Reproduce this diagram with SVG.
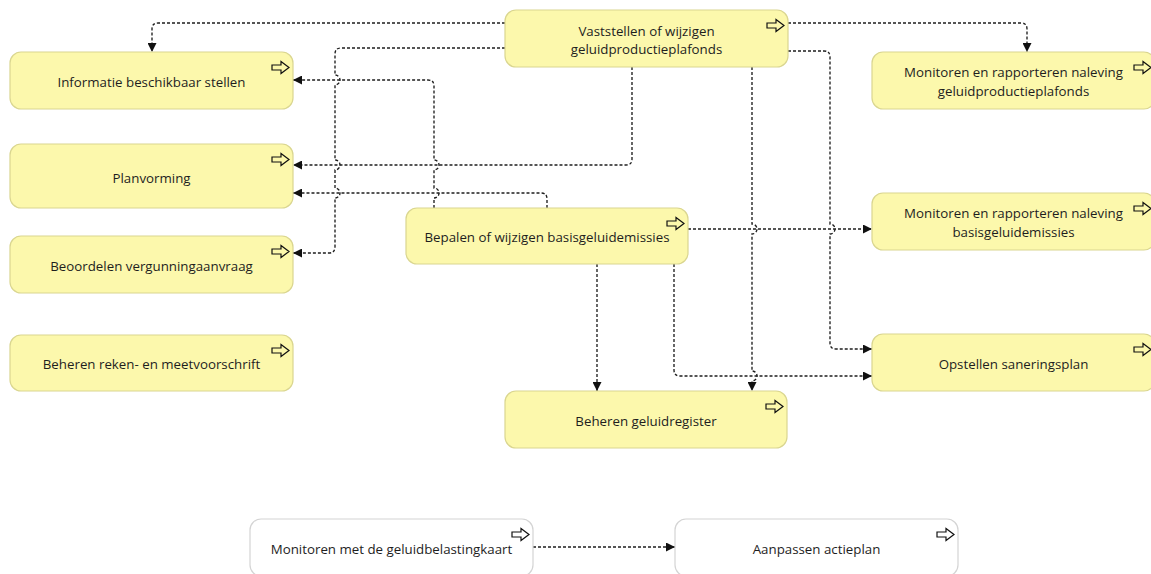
<svg xmlns="http://www.w3.org/2000/svg" width="1151" height="574" viewBox="0 0 1151 574">
<style>
.n rect{fill:#fcf8ac;stroke:#dad690;stroke-width:1.2}
.w rect{fill:#ffffff;stroke:#d4d4d4;stroke-width:1.2}
.n text,.w text{font-family:"Open Sans","Noto Sans","Liberation Sans",sans-serif;font-size:13.3px;fill:#1e1e1e;text-anchor:middle}
.ic{fill:none;stroke:#111;stroke-width:1.2;stroke-linejoin:miter}
.c path{fill:none;stroke:#1e1e1e;stroke-width:1.35;stroke-dasharray:3 2;marker-end:url(#ah)}
</style>
<defs>
<marker id="ah" viewBox="0 0 10 10" refX="10" refY="5" markerWidth="9" markerHeight="9" markerUnits="userSpaceOnUse" orient="auto">
<path d="M0,0 L10,5 L0,10 z" fill="#111"/>
</marker>
<path id="icon" d="M0,-2.5 H9 V-6 L17,0 L9,6 V2.5 H0 Z"/>
</defs>
<rect width="1151" height="574" fill="#ffffff"/>

<g class="c" id="connectors">
<path d="M505,23 H158 Q152,23 152,29 V52"/>
<path d="M505,48 H341 Q335,48 335,54 V75 A5,5 0 0 1 335,85 V160 A5,5 0 0 1 335,170 V188 A5,5 0 0 1 335,198 V247 Q335,253 329,253 H293"/>
<path d="M632,67 V159 Q632,165 626,165 H293"/>
<path d="M788,23 H1021 Q1027,23 1027,29 V52"/>
<path d="M788,51 H824 Q830,51 830,57 V224 A5,5 0 0 1 830,234 V343 Q830,349 836,349 H872"/>
<path d="M752,67 V224 A5,5 0 0 1 752,234 V371 A5,5 0 0 1 752,381 V391"/>
<path d="M434,208 V198 A5,5 0 0 0 434,188 V170 A5,5 0 0 0 434,160 V86 Q434,80 428,80 H293"/>
<path d="M547,208 V199 Q547,193 541,193 H293"/>
<path d="M688,229 H872"/>
<path d="M597,264 V391"/>
<path d="M674,264 V370 Q674,376 680,376 H872"/>
<path d="M533,547 H675"/>
</g>

<g id="vaststellen" class="n">
<rect x="505" y="10" width="283" height="57" rx="11"/>
<use href="#icon" class="ic" x="767" y="25.5"/>
<text x="646.5" y="35.5">Vaststellen of wijzigen</text>
<text x="646.5" y="54">geluidproductieplafonds</text>
</g>
<g id="informatie" class="n">
<rect x="10" y="52" width="283" height="57" rx="11"/>
<use href="#icon" class="ic" x="272" y="67.5"/>
<text x="151.5" y="87">Informatie beschikbaar stellen</text>
</g>
<g id="planvorming" class="n">
<rect x="10" y="144" width="283" height="64" rx="11"/>
<use href="#icon" class="ic" x="272" y="159.5"/>
<text x="151.5" y="182.5">Planvorming</text>
</g>
<g id="beoordelen" class="n">
<rect x="10" y="236" width="283" height="57" rx="11"/>
<use href="#icon" class="ic" x="272" y="251.5"/>
<text x="151.5" y="270.5">Beoordelen vergunningaanvraag</text>
</g>
<g id="beheren-reken" class="n">
<rect x="10" y="335" width="283" height="56" rx="11"/>
<use href="#icon" class="ic" x="272" y="350.5"/>
<text x="151.5" y="369.3">Beheren reken- en meetvoorschrift</text>
</g>
<g id="bepalen" class="n">
<rect x="406" y="208" width="282" height="56" rx="11"/>
<use href="#icon" class="ic" x="667" y="223.5"/>
<text x="547" y="242.3">Bepalen of wijzigen basisgeluidemissies</text>
</g>
<g id="beheren-geluidregister" class="n">
<rect x="505" y="391" width="282" height="57" rx="11"/>
<use href="#icon" class="ic" x="766" y="406.5"/>
<text x="646" y="426">Beheren geluidregister</text>
</g>
<g id="monitoren-plafonds" class="n">
<rect x="872" y="52" width="283" height="57" rx="11"/>
<use href="#icon" class="ic" x="1134" y="67.5"/>
<text x="1013.5" y="77.3">Monitoren en rapporteren naleving</text>
<text x="1013.5" y="96">geluidproductieplafonds</text>
</g>
<g id="monitoren-basis" class="n">
<rect x="872" y="193" width="283" height="57" rx="11"/>
<use href="#icon" class="ic" x="1134" y="208.5"/>
<text x="1013.5" y="218.3">Monitoren en rapporteren naleving</text>
<text x="1013.5" y="236.7">basisgeluidemissies</text>
</g>
<g id="opstellen" class="n">
<rect x="872" y="334" width="283" height="57" rx="11"/>
<use href="#icon" class="ic" x="1134" y="349.5"/>
<text x="1013.5" y="369">Opstellen saneringsplan</text>
</g>
<g id="monitoren-kaart" class="w">
<rect x="250" y="519" width="283" height="57" rx="11"/>
<use href="#icon" class="ic" x="512" y="534.5"/>
<text x="391.5" y="554.3">Monitoren met de geluidbelastingkaart</text>
</g>
<g id="aanpassen" class="w">
<rect x="675" y="519" width="283" height="57" rx="11"/>
<use href="#icon" class="ic" x="937" y="534.5"/>
<text x="816.5" y="554.3">Aanpassen actieplan</text>
</g>
</svg>
